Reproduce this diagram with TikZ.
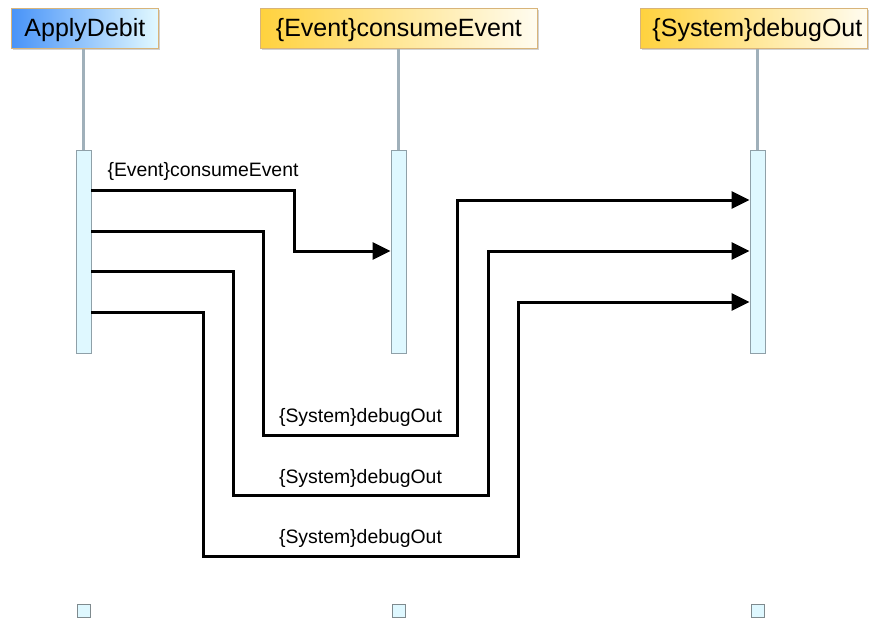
\documentclass[tikz,border=0pt]{standalone}
\usepackage{fontspec}
\setmainfont{Liberation Sans}
\usetikzlibrary{arrows.meta,shadows}
\definecolor{barfill}{HTML}{DFF8FF}
\definecolor{barline}{HTML}{8FA0A8}
\definecolor{lifeline}{HTML}{A0B0BA}
\definecolor{hdrborder}{HTML}{D8B47A}
\definecolor{blueL}{HTML}{4893F8}
\definecolor{blueR}{HTML}{E2F9FF}
\definecolor{yelL}{HTML}{FFD23E}
\definecolor{yelR}{HTML}{FFFCF0}
\definecolor{endline}{HTML}{7F8A8E}
\begin{document}
\begin{tikzpicture}[x=1pt,y=-1pt,
  header/.style={draw=hdrborder, line width=0.8pt, minimum height=40pt, inner sep=0pt,
    text height=18pt, text depth=2pt,
    anchor=north west, font=\fontsize{25}{30}\selectfont,
    drop shadow={shadow xshift=1.5pt, shadow yshift=-1.5pt, opacity=0.35}},
  bar/.style={draw=barline, fill=barfill, line width=0.8pt, minimum width=15pt,
    minimum height=203pt, inner sep=0pt, anchor=north},
  endbox/.style={draw=endline, fill=barfill, line width=1pt, minimum size=13pt, inner sep=0pt},
  life/.style={draw=lifeline, line width=2.2pt},
  msg/.style={draw=black, line width=3pt, line join=miter, -{Triangle[length=18pt,width=17pt]}},
  lbl/.style={anchor=base, inner sep=0pt, font=\fontsize{19.4}{23}\selectfont}]
\useasboundingbox (0,0) rectangle (869,618);
\fill[white] (0,0) rectangle (869,618);

% headers
\node[header, left color=blueL, right color=blueR, minimum width=147pt] (hA) at (11,8) {ApplyDebit};
\node[header, left color=yelL, right color=yelR, minimum width=277pt] (hE) at (260,8) {\{Event\}consumeEvent};
\node[header, left color=yelL, right color=yelR, minimum width=227pt] (hS) at (640,8) {\hspace{7pt}\{System\}debugOut};

% activation bars
\node[bar] (aA) at (83.5,150) {};
\node[bar] (aE) at (398.5,150) {};
\node[bar] (aS) at (757.5,150) {};

% lifelines
\draw[life] (aA.north |- hA.south) -- (aA.north);
\draw[life] (aE.north |- hE.south) -- (aE.north);
\draw[life] (aS.north |- hS.south) -- (aS.north);

% end markers
\node[endbox] (bA) at (84,610.5) {};
\node[endbox] (bE) at (398.5,610.5) {};
\node[endbox] (bS) at (757.5,610.5) {};

% messages
\draw[msg] (aA.east |- 0,190) -| (294,251) -- (aE.west |- 0,251);
\node[lbl] (l1) at (203,176) {\{Event\}consumeEvent};

\draw[msg] (aA.east |- 0,231) -| (263,435) -| (457,200) -- (aS.west |- 0,200);
\node[lbl] (l2) at (360.5,422) {\{System\}debugOut};

\draw[msg] (aA.east |- 0,271) -| (233,495) -| (488,251) -- (aS.west |- 0,251);
\node[lbl] (l3) at (360.5,483) {\{System\}debugOut};

\draw[msg] (aA.east |- 0,312) -| (203,556) -| (518,302) -- (aS.west |- 0,302);
\node[lbl] (l4) at (360.5,543) {\{System\}debugOut};
\end{tikzpicture}
\end{document}
